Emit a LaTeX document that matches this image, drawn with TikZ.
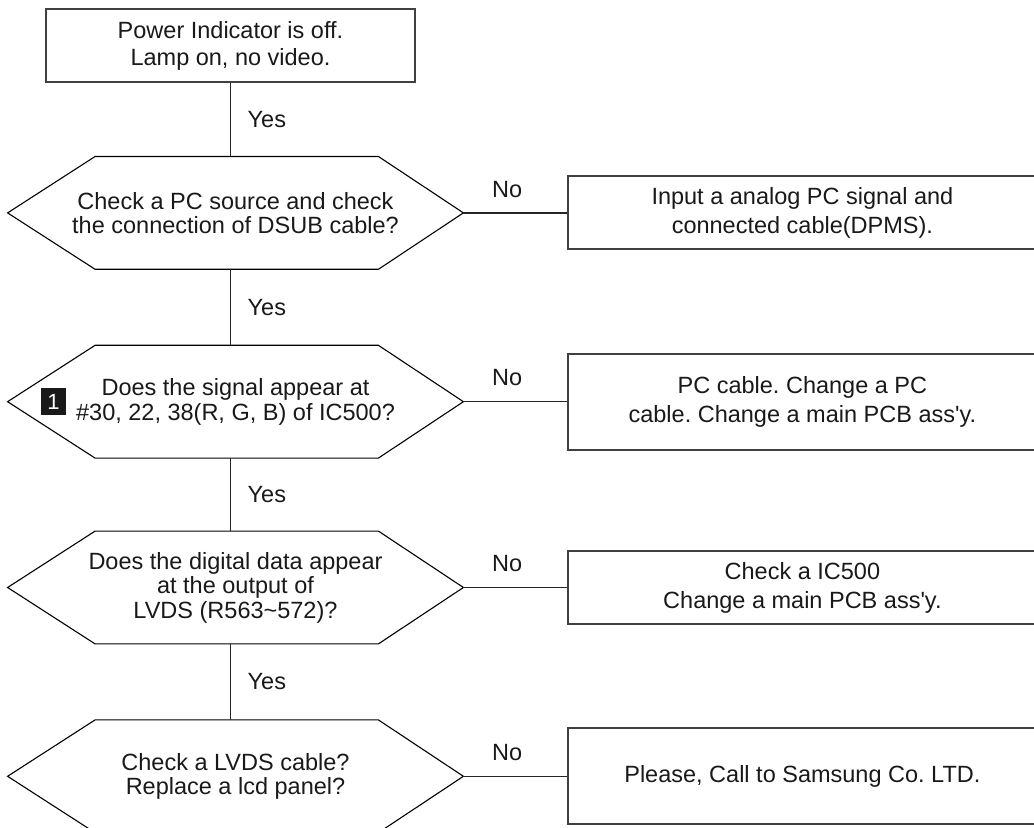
\documentclass[tikz,border=0pt]{standalone}
\usepackage{fontspec}
\setmainfont{Liberation Sans}
\usepackage{tikz}
\usetikzlibrary{positioning}
\usetikzlibrary{calc}
\frenchspacing
\tikzset{
	flowbox/.style={
		draw=black!75, line width=1pt, inner sep=0pt, align=center,
		minimum width=184.5pt, minimum height=36.5pt,
		font=\fontsize{11.75pt}{13.5pt}\selectfont
	},
	decision/.style={
		inner sep=0pt, align=center,
		minimum width=227.5pt, minimum height=56pt,
		font=\fontsize{11.75pt}{12.25pt}\selectfont
	},
	action/.style={
		draw=black!75, line width=1pt, inner sep=0pt, align=center,
		minimum width=234pt, minimum height=36.5pt,
		font=\fontsize{11.75pt}{14.5pt}\selectfont
	},
	hexline/.style={
		draw=black, line width=0.55pt
	},
	flow/.style={
		draw=black!85, line width=0.65pt
	},
	yes label/.style={
		right=8.25pt, inner sep=0pt, font=\fontsize{11.75pt}{12pt}\selectfont
	},
	no label/.style={
		above=7.5pt, inner sep=0pt, font=\fontsize{11.75pt}{12pt}\selectfont
	},
	marker/.style={
		fill=black!90, text=white, inner sep=0pt,
		minimum width=12.5pt, minimum height=13.5pt,
		font=\fontsize{11pt}{11pt}\selectfont
	}
}
\def\hexframe#1{%
	\draw[hexline] (#1.west) -- ([xshift=43.75pt]#1.north west) -- ([xshift=-42.5pt]#1.north east)
		-- (#1.east) -- ([xshift=-42.5pt]#1.south east) -- ([xshift=43.75pt]#1.south west) -- cycle;%
}
\begin{document}
\begin{tikzpicture}[x=0.5pt, y=-0.5pt, every node/.style={text=black!90}]
\useasboundingbox (0,0) rectangle (1034,828);

\node[flowbox] (start) at (230.5,45.5) {Power Indicator is off.\\Lamp on, no video.};

\node[decision, below=36.75pt of start, xshift=2.5pt] (q1) {Check a PC source and check\\the connection of DSUB cable?};
\node[decision, below=38pt of q1] (q2) {Does the signal appear at\\\#30, 22, 38(R, G, B) of IC500?};
\node[decision, below=36.5pt of q2] (q3) {Does the digital data appear\\at the output of\\LVDS (R563\textasciitilde572)?};
\node[decision, below=38pt of q3] (q4) {Check a LVDS cable?\\Replace a lcd panel?};

\node[marker, right=16.5pt of q2.west] (m1) {1};

\node[action, right=52pt of q1] (r1) {Input a analog PC signal and\\connected cable(DPMS).};
\node[action, right=52pt of q2, minimum height=48pt] (r2) {PC cable. Change a PC\\cable. Change a main PCB ass\textquotesingle y.};
\node[action, right=52pt of q3] (r3) {Check a IC500\\Change a main PCB ass\textquotesingle y.};
\node[action, right=52pt of q4, minimum height=48pt] (r4) {Please, Call to Samsung Co. LTD.};

\foreach \q in {q1,q2,q3,q4} {\hexframe{\q}}

\draw[flow] (start.south) -- (start.south |- q1.north) node[midway, yes label] (y1) {Yes};
\foreach \a/\b/\n in {q1/q2/2, q2/q3/3, q3/q4/4} {
	\draw[flow] (\a.south -| start.south) -- (\b.north -| start.south) node[midway, yes label] (y\n) {Yes};
}
\foreach \q/\r/\n in {q1/r1/1, q2/r2/2, q3/r3/3, q4/r4/4} {
	\draw[flow] (\q.east) -- (\r.west) node[pos=0.42, no label] (n\n) {No};
}

\end{tikzpicture}
\end{document}
